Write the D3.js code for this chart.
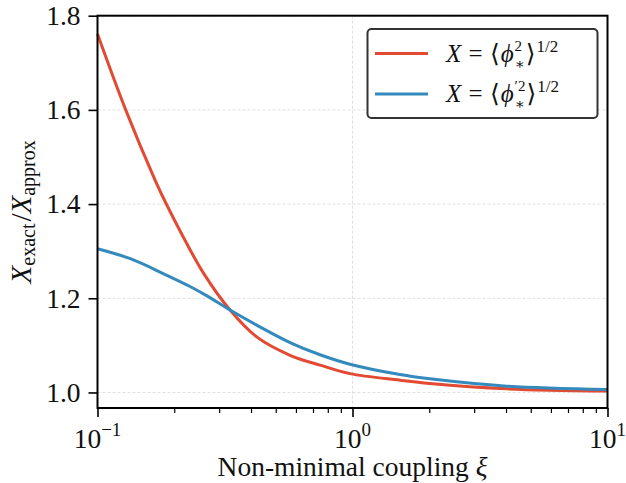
<!DOCTYPE html>
<html>
<head>
<meta charset="utf-8">
<script src="https://cdn.jsdelivr.net/npm/d3@7/dist/d3.min.js"></script>
<style>
  body { margin: 0; background: #fff; }
  svg { display: block; }
</style>
</head>
<body>
<div id="chart"></div>
<script>
// values
const xiRed = [0.1, 0.129, 0.1685, 0.187, 0.218, 0.26, 0.331, 0.421, 0.569, 0.746, 0.977, 1.535, 2.01, 4.03, 10];
const ratioRed = [1.761, 1.600, 1.450, 1.398, 1.328, 1.254, 1.175, 1.118, 1.079, 1.058, 1.040, 1.026, 1.019, 1.0077, 1.003];

const xiBlue = [0.1, 0.1345, 0.1818, 0.2306, 0.2688, 0.331, 0.421, 0.569, 0.746, 0.977, 1.535, 2.01, 4.03, 10];
const ratioBlue = [1.305, 1.284, 1.252, 1.225, 1.205, 1.175, 1.143, 1.106, 1.080, 1.060, 1.038, 1.029, 1.0134, 1.0064];

const yTicks = [1.0, 1.2, 1.4, 1.6, 1.8];
const xMajor = [0.1, 1, 10];
const xMajorExp = ["−1", "0", "1"];
const xMinor = [0.2, 0.3, 0.4, 0.5, 0.6, 0.7, 0.8, 0.9, 2, 3, 4, 5, 6, 7, 8, 9];

const series = [
    { name: 'phi', xs: xiRed, ys: ratioRed, color: '#E24A33' },
    { name: 'dphi', xs: xiBlue, ys: ratioBlue, color: '#348ABD' }
];

const W = 626, H = 483;
const margin = { top: 15.7, right: 18.5, bottom: 75, left: 97.5 };
const FONT = '"Liberation Serif", "DejaVu Serif", serif';

const x = d3.scaleLog()
    .domain([0.1, 10])
    .range([margin.left, W - margin.right]);

const y = d3.scaleLinear()
    .domain([0.967, 1.8])
    .range([H - margin.bottom, margin.top]);

const svg = d3.select('#chart').append('svg')
    .attr('width', W)
    .attr('height', H)
    .attr('viewBox', [0, 0, W, H])
    .style('font-family', FONT);

// grid
const grid = svg.append('g')
    .attr('stroke', '#d8d8d8')
    .attr('stroke-width', 0.8)
    .attr('stroke-dasharray', '3,2');

grid.selectAll('line.gy')
    .data(yTicks)
    .join('line')
    .attr('class', 'gy')
    .attr('x1', margin.left).attr('x2', W - margin.right)
    .attr('y1', d => y(d)).attr('y2', d => y(d));

grid.selectAll('line.gx')
    .data(xMajor)
    .join('line')
    .attr('class', 'gx')
    .attr('x1', d => x(d)).attr('x2', d => x(d))
    .attr('y1', margin.top).attr('y2', H - margin.bottom);

// curves
const line = d3.line()
    .curve(d3.curveCatmullRom.alpha(0.5));

svg.append('g')
    .attr('fill', 'none')
    .attr('stroke-width', 3)
    .attr('stroke-linejoin', 'round')
    .selectAll('path')
    .data(series)
    .join('path')
    .attr('stroke', d => d.color)
    .attr('d', d => line(d.xs.map((v, i) => [x(v), y(d.ys[i])])));

// y axis
const yAxis = svg.append('g')
    .attr('transform', `translate(${margin.left},0)`)
    .call(d3.axisLeft(y).tickValues(yTicks).tickFormat(d3.format('.1f')).tickSize(9).tickPadding(8));
yAxis.select('.domain').remove();
yAxis.selectAll('.tick line').attr('stroke', '#000').attr('stroke-width', 1.6);
yAxis.selectAll('.tick text')
    .attr('font-family', FONT)
    .attr('font-size', 27.5)
    .attr('fill', '#111');

// x axis, major + minor
const xAxis = svg.append('g')
    .attr('transform', `translate(0,${H - margin.bottom})`)
    .call(d3.axisBottom(x).tickValues(xMajor).tickFormat('').tickSize(9));
xAxis.select('.domain').remove();
xAxis.selectAll('.tick line').attr('stroke', '#000').attr('stroke-width', 1.6);

const xMinorAxis = svg.append('g')
    .attr('transform', `translate(0,${H - margin.bottom})`)
    .call(d3.axisBottom(x).tickValues(xMinor).tickFormat('').tickSize(5));
xMinorAxis.select('.domain').remove();
xMinorAxis.selectAll('.tick line').attr('stroke', '#000').attr('stroke-width', 1.2);

const xLabels = svg.append('g')
    .attr('font-size', 27.5)
    .attr('fill', '#111')
    .attr('text-anchor', 'middle');

xMajor.forEach((v, i) => {
    const t = xLabels.append('text')
        .attr('x', x(v))
        .attr('y', H - margin.bottom + 40);
    t.append('tspan').text('10');
    t.append('tspan').attr('font-size', 19).attr('dy', -12).text(xMajorExp[i]);
});

// spines
svg.append('rect')
    .attr('x', margin.left)
    .attr('y', margin.top)
    .attr('width', W - margin.left - margin.right)
    .attr('height', H - margin.top - margin.bottom)
    .attr('fill', 'none')
    .attr('stroke', '#000')
    .attr('stroke-width', 2);

// axis titles
svg.append('text')
    .attr('x', (margin.left + W - margin.right) / 2)
    .attr('y', 476)
    .attr('text-anchor', 'middle')
    .attr('font-size', 27.5)
    .attr('fill', '#111')
    .text('Non-minimal coupling ')
    .append('tspan').attr('font-style', 'italic').text('ξ');

const yTitle = svg.append('text')
    .attr('transform', `translate(31,${(margin.top + H - margin.bottom) / 2}) rotate(-90)`)
    .attr('text-anchor', 'middle')
    .attr('font-size', 29)
    .attr('fill', '#111');
yTitle.append('tspan').attr('font-style', 'italic').text('X');
yTitle.append('tspan').attr('font-size', 20).attr('dy', 4).text('exact');
yTitle.append('tspan').attr('dy', -4).attr('dx', 2).text('/');
yTitle.append('tspan').attr('font-style', 'italic').text('X');
yTitle.append('tspan').attr('font-size', 20).attr('dy', 4).text('approx');

// legend
const legend = svg.append('g');
legend.append('rect')
    .attr('x', 367.5).attr('y', 29)
    .attr('width', 230).attr('height', 89)
    .attr('rx', 4)
    .attr('fill', '#fff')
    .attr('stroke', '#333')
    .attr('stroke-width', 2);

// pieces of the math labels: text, italic, size, baseline shift, advance
const legendMath = [
    [
        { t: 'X', it: true }, { t: ' = ' }, { t: '⟨' }, { t: 'ϕ', it: true },
        { t: '2', s: 15, dy: -11, stay: true }, { t: '∗', s: 15, dy: 7 },
        { t: '⟩' }, { t: '1/2', s: 17, dy: -10 }
    ],
    [
        { t: 'X', it: true }, { t: ' = ' }, { t: '⟨' }, { t: 'ϕ', it: true },
        { t: '′2', s: 15, dy: -11, stay: true }, { t: '∗', s: 15, dy: 7 },
        { t: '⟩' }, { t: '1/2', s: 17, dy: -10 }
    ]
];

// one text element, each piece a tspan placed at an absolute x
function drawMath(g, x0, y0, parts) {
    const t = g.append('text')
        .attr('fill', '#111')
        .style('white-space', 'pre');
    let cx = x0;
    let held = 0;
    parts.forEach(p => {
        const ts = t.append('tspan')
            .attr('x', cx)
            .attr('y', y0 + (p.dy || 0))
            .attr('font-size', p.s || 25)
            .attr('font-style', p.it ? 'italic' : 'normal')
            .text(p.t);
        const w = ts.node().getComputedTextLength();
        if (p.stay) {
            held = w;
        } else {
            cx += Math.max(w, held) + 1;
            held = 0;
        }
    });
}

series.forEach((s, i) => {
    const ly = 53.5 + i * 40.5;
    legend.append('line')
        .attr('x1', 375).attr('x2', 428)
        .attr('y1', ly).attr('y2', ly)
        .attr('stroke', s.color)
        .attr('stroke-width', 3);
    drawMath(legend, 446, ly + 8, legendMath[i]);
});
</script>
</body>
</html>
